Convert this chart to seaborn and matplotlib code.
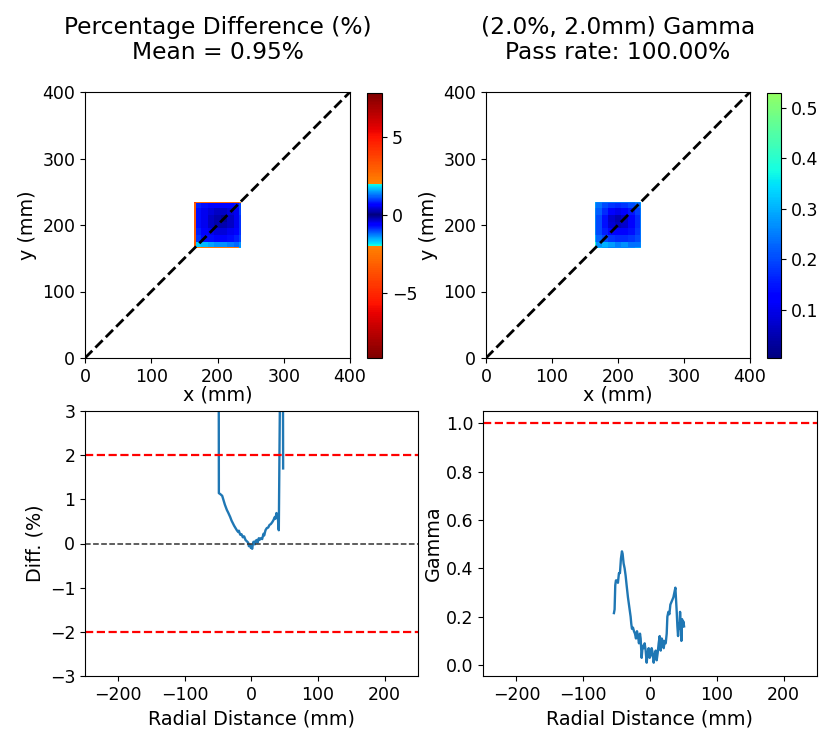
import numpy as np
import matplotlib
matplotlib.use("Agg")
import matplotlib.pyplot as plt
from matplotlib.colors import ListedColormap
import seaborn as sns

# ---------------- data ----------------
# field cell edges (mm) for the coarse 2D maps
cell_edges = [165, 167, 175, 185, 195, 205, 215, 225, 233, 235]

# percentage difference map (rows bottom -> top)
diff_map = [
    [3.0, 2.3, 2.3, 2.3, 2.3, 2.3, 2.3, 2.3, 1.5],
    [3.0, 1.7, 1.6, 1.5, 1.4, 1.4, 1.3, 1.2, 1.4],
    [3.0, 0.9, 0.7, 0.7, 0.6, 0.6, 0.7, 0.8, 1.0],
    [3.0, 0.8, 0.6, 0.5, 0.4, 0.4, 0.5, 0.6, 0.9],
    [3.0, 0.7, 0.5, 0.3, 0.2, 0.2, 0.3, 0.5, 0.9],
    [3.0, 0.7, 0.5, 0.3, 0.2, 0.1, 0.3, 0.5, 0.9],
    [3.0, 0.7, 0.5, 0.4, 0.3, 0.3, 0.4, 0.5, 1.0],
    [3.0, 0.8, 0.7, 0.6, 0.6, 0.6, 0.6, 0.7, 1.0],
    [4.0, 2.8, 2.8, 2.8, 2.8, 2.8, 2.8, 2.8, 2.0],
]

# gamma map (rows bottom -> top)
gamma_map = [
    [0.35, 0.30, 0.28, 0.26, 0.26, 0.26, 0.26, 0.28, 0.30],
    [0.40, 0.27, 0.30, 0.28, 0.25, 0.27, 0.24, 0.24, 0.26],
    [0.30, 0.23, 0.20, 0.18, 0.17, 0.17, 0.18, 0.20, 0.24],
    [0.26, 0.20, 0.16, 0.13, 0.12, 0.12, 0.14, 0.18, 0.24],
    [0.26, 0.20, 0.14, 0.08, 0.06, 0.07, 0.12, 0.17, 0.24],
    [0.26, 0.20, 0.14, 0.07, 0.05, 0.07, 0.12, 0.17, 0.24],
    [0.26, 0.22, 0.17, 0.12, 0.10, 0.12, 0.15, 0.19, 0.24],
    [0.28, 0.24, 0.20, 0.18, 0.17, 0.18, 0.20, 0.22, 0.26],
    [0.30, 0.26, 0.24, 0.24, 0.24, 0.24, 0.24, 0.26, 0.30],
]

diff_range = [-9.2, 7.8]
gamma_range = [0.004, 0.53]

# diagonal profiles
diff_r = [-49.5, -49.0, -47, -44, -42, -40, -37, -35, -32, -30, -28, -26, -24, -22,
          -20, -19, -17, -15, -13, -11, -9, -7, -5, -4, -2, -1, 0, 1, 2, 3, 5, 6,
          8, 9, 11, 12, 14, 16, 18, 19, 21, 23, 25, 27, 29, 31, 33, 35, 36, 37.5,
          38.5, 39.5, 40.5, 41, 44.5, 47.0, 47.5]
diff_v = [7.8, 1.14, 1.12, 1.08, 0.98, 0.88, 0.76, 0.70, 0.60, 0.52, 0.46, 0.40, 0.35, 0.30,
          0.26, 0.29, 0.20, 0.21, 0.14, 0.16, 0.08, 0.05, 0.02, -0.06, -0.03, -0.10, -0.06, -0.12,
          -0.02, 0.04, -0.02, 0.06, 0.08, 0.02, 0.12, 0.08, 0.12, 0.10, 0.22, 0.18, 0.30, 0.35,
          0.36, 0.42, 0.44, 0.48, 0.53, 0.60, 0.56, 0.69, 0.62, 0.64, 0.35, 0.30, 6.5, 5.0, 1.7]

gamma_r = [-54, -53, -52, -51, -49.5, -48, -46.5, -45, -43.5, -42, -41, -39.5, -38, -36.5,
           -35, -33, -31, -29, -28, -27, -25.5, -24, -22.5, -21, -19.5, -18, -16.5, -15,
           -14, -12.5, -11, -9.5, -8, -6.5, -5, -3.5, -2, -0.5, 1, 2.5, 4, 5.5, 7, 8.5,
           10, 11.5, 13, 14.5, 16, 17.5, 19, 20.5, 22, 23.5, 25, 26, 27.5, 29, 30.5, 32,
           33.5, 35, 36.5, 38, 39, 40, 41, 42, 43, 44, 45, 46, 47, 48, 49, 50, 51]
gamma_v = [0.215, 0.23, 0.33, 0.35, 0.35, 0.34, 0.38, 0.38, 0.44, 0.47, 0.46, 0.42, 0.40, 0.37,
           0.33, 0.28, 0.24, 0.20, 0.17, 0.15, 0.155, 0.14, 0.13, 0.11, 0.14, 0.12, 0.09, 0.13,
           0.11, 0.03, 0.08, 0.07, 0.09, 0.06, 0.01, 0.05, 0.07, 0.03, 0.04, 0.07, 0.05, 0.01,
           0.04, 0.06, 0.02, 0.05, 0.09, 0.12, 0.06, 0.11, 0.10, 0.07, 0.10, 0.09, 0.13, 0.20,
           0.22, 0.21, 0.25, 0.26, 0.27, 0.28, 0.30, 0.32, 0.27, 0.22, 0.16, 0.12, 0.17, 0.15,
           0.22, 0.17, 0.10, 0.19, 0.16, 0.18, 0.16]

diff_title = "Percentage Difference (%)\nMean = 0.95%"
gamma_title = "(2.0%, 2.0mm) Gamma\nPass rate: 100.00%"
diff_tol = 2.0
gamma_tol = 1.0

# ---------------- colormaps ----------------
jet = plt.get_cmap("jet")
vals = np.linspace(diff_range[0], diff_range[1], 512)
cols = []
for v in vals:
    a = abs(v)
    if a < diff_tol:
        cols.append(jet(0.38 * a / diff_tol))
    else:
        ext = diff_range[1] if v > 0 else -diff_range[0]
        t = (a - diff_tol) / (ext - diff_tol)
        cols.append(jet(0.77 + 0.23 * t))
diff_cmap = ListedColormap(cols)
gamma_cmap = ListedColormap(jet(np.linspace(0, 0.53, 256)))

# ---------------- figure ----------------
plt.rcParams.update({"font.family": "DejaVu Sans", "xtick.labelsize": 12.5,
                     "ytick.labelsize": 12.5, "axes.labelsize": 13.8})
fig = plt.figure(figsize=(8.25, 7.31), dpi=100)
W, H = 825.0, 731.0

def rect(x0, y0, x1, y1):
    return [x0 / W, 1 - y1 / H, (x1 - x0) / W, (y1 - y0) / H]

ax1 = fig.add_axes(rect(85, 92, 350, 358))
cax1 = fig.add_axes(rect(367, 93, 382, 358))
ax2 = fig.add_axes(rect(486, 92, 750, 358))
cax2 = fig.add_axes(rect(767, 93, 781, 358))
ax3 = fig.add_axes(rect(85, 411, 418, 676))
ax4 = fig.add_axes(rect(483, 411, 817, 676))

for ax, data, cmap, rng, cax, title, ticks in [
    (ax1, diff_map, diff_cmap, diff_range, cax1, diff_title, [-5, 0, 5]),
    (ax2, gamma_map, gamma_cmap, gamma_range, cax2, gamma_title, [0.1, 0.2, 0.3, 0.4, 0.5]),
]:
    m = ax.pcolormesh(cell_edges, cell_edges, np.array(data), cmap=cmap,
                      vmin=rng[0], vmax=rng[1], shading="flat")
    ax.plot([0, 400], [0, 400], "k--", lw=2)
    ax.set_xlim(0, 400)
    ax.set_ylim(0, 400)
    ax.set_xticks([0, 100, 200, 300, 400])
    ax.set_yticks([0, 100, 200, 300, 400])
    ax.set_xlabel("x (mm)", labelpad=0)
    ax.set_ylabel("y (mm)")
    ax.set_title(title, fontsize=16.8, pad=24, linespacing=1.1)
    cb = fig.colorbar(m, cax=cax)
    cb.set_ticks(ticks)
    cb.ax.tick_params(labelsize=12.5)

# difference profile
sns.lineplot(x=diff_r, y=diff_v, ax=ax3, color="#1f77b4", lw=1.7, sort=False, estimator=None)
ax3.axhline(diff_tol, color="red", ls="--", lw=1.6)
ax3.axhline(-diff_tol, color="red", ls="--", lw=1.6)
ax3.axhline(0, color="#333333", ls="--", lw=1.1)
ax3.set_xlim(-250, 250)
ax3.set_ylim(-3, 3)
ax3.set_xticks([-200, -100, 0, 100, 200])
ax3.set_yticks([-3, -2, -1, 0, 1, 2, 3])
ax3.set_xlabel("Radial Distance (mm)")
ax3.set_ylabel("Diff. (%)")

# gamma profile
sns.lineplot(x=gamma_r, y=gamma_v, ax=ax4, color="#1f77b4", lw=1.7, sort=False, estimator=None)
ax4.axhline(gamma_tol, color="red", ls="--", lw=1.6)
ax4.set_xlim(-250, 250)
ax4.set_ylim(-0.045, 1.05)
ax4.set_xticks([-200, -100, 0, 100, 200])
ax4.set_yticks([0.0, 0.2, 0.4, 0.6, 0.8, 1.0])
ax4.set_xlabel("Radial Distance (mm)")
ax4.set_ylabel("Gamma", labelpad=2)

fig.savefig("out.png", dpi=100)
